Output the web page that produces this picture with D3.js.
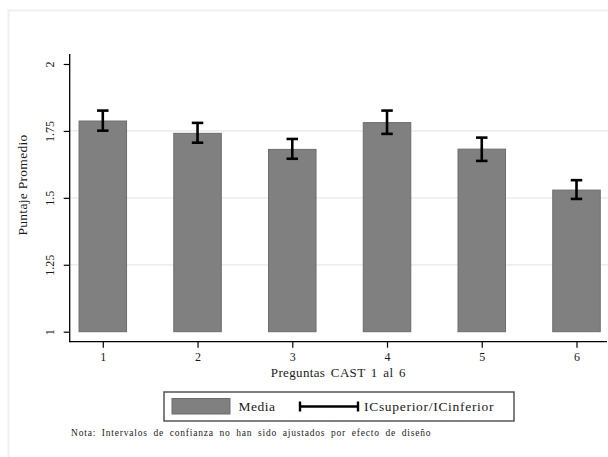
<!DOCTYPE html>
<html>
<head>
<meta charset="utf-8">
<script src="https://d3js.org/d3.v7.min.js"></script>
<style>
  body { margin: 0; background: #fff; }
</style>
</head>
<body>
<script>
// valores
var preguntas = [1, 2, 3, 4, 5, 6];
var media = [1.787, 1.741, 1.681, 1.781, 1.682, 1.529];
var icSuperior = [1.826, 1.780, 1.720, 1.826, 1.725, 1.566];
var icInferior = [1.751, 1.706, 1.646, 1.739, 1.638, 1.496];
var yTicks = [1, 1.25, 1.5, 1.75, 2];

var W = 608, H = 457;
var plotLeft = 69.7, plotRight = 607, plotTop = 54, plotBottom = 341.7;
var serif = "'Liberation Serif', 'Times New Roman', 'DejaVu Serif', serif";

var svg = d3.select("body").append("svg")
    .attr("width", W).attr("height", H);

// marco exterior (gris claro)
svg.append("path")
    .attr("d", "M8.5," + H + "V10.5H" + W)
    .attr("fill", "none").attr("stroke", "#efefef").attr("stroke-width", 2);

var x = d3.scalePoint().domain(preguntas).range([102.8, 576.5]);
var y = d3.scaleLinear().domain([1, 2]).range([331.7, 64]);
var barW = 47.5;

// lineas de grilla
svg.selectAll(".grid")
    .data(yTicks.filter(function (d) { return d > 1 && d < 2; }))
  .enter().append("line")
    .attr("x1", plotLeft).attr("x2", W)
    .attr("y1", function (d) { return y(d); })
    .attr("y2", function (d) { return y(d); })
    .attr("stroke", "#e8e8e8").attr("stroke-width", 1.2);

// barras
svg.selectAll(".bar")
    .data(preguntas)
  .enter().append("rect")
    .attr("x", function (d) { return x(d) - barW / 2; })
    .attr("width", barW)
    .attr("y", function (d, i) { return y(media[i]); })
    .attr("height", function (d, i) { return y(1) - y(media[i]); })
    .attr("fill", "#808080").attr("stroke", "#6c6c6c").attr("stroke-width", 1);

// intervalos de confianza
var capW = 11.5;
var ic = svg.selectAll(".ic").data(preguntas).enter().append("g")
    .attr("stroke", "#000").attr("stroke-width", 2.6);
ic.append("line")
    .attr("x1", function (d) { return x(d); }).attr("x2", function (d) { return x(d); })
    .attr("y1", function (d, i) { return y(icSuperior[i]); })
    .attr("y2", function (d, i) { return y(icInferior[i]); });
ic.append("line")
    .attr("x1", function (d) { return x(d) - capW / 2; }).attr("x2", function (d) { return x(d) + capW / 2; })
    .attr("y1", function (d, i) { return y(icSuperior[i]); })
    .attr("y2", function (d, i) { return y(icSuperior[i]); });
ic.append("line")
    .attr("x1", function (d) { return x(d) - capW / 2; }).attr("x2", function (d) { return x(d) + capW / 2; })
    .attr("y1", function (d, i) { return y(icInferior[i]); })
    .attr("y2", function (d, i) { return y(icInferior[i]); });

// eje y
var yAxis = svg.append("g")
    .attr("transform", "translate(" + plotLeft + ",0)")
    .call(d3.axisLeft(y).tickValues(yTicks).tickSize(6).tickPadding(0).tickFormat(d3.format("")));
yAxis.select(".domain").remove();
yAxis.append("line").attr("y1", plotTop).attr("y2", plotBottom + 0.5)
    .attr("stroke", "#000").attr("stroke-width", 1.3);
yAxis.selectAll(".tick line").attr("stroke", "#000").attr("stroke-width", 1.2);
yAxis.selectAll(".tick text")
    .attr("x", null).attr("dy", null)
    .attr("text-anchor", "middle")
    .attr("transform", "translate(-16,0) rotate(-90)")
    .style("font-family", serif).style("font-size", "12px").style("fill", "#1a1a1a");

// eje x
var xAxis = svg.append("g")
    .attr("transform", "translate(0," + plotBottom + ")")
    .call(d3.axisBottom(x).tickSize(6).tickPadding(5));
xAxis.select(".domain").remove();
xAxis.append("line").attr("x1", plotLeft).attr("x2", plotRight)
    .attr("stroke", "#000").attr("stroke-width", 1.3);
xAxis.selectAll(".tick line").attr("stroke", "#000").attr("stroke-width", 1.2);
xAxis.selectAll(".tick text")
    .style("font-family", serif).style("font-size", "12px").style("fill", "#1a1a1a");

// titulos
svg.append("text")
    .attr("transform", "translate(27," + 185 + ") rotate(-90)")
    .attr("text-anchor", "middle")
    .style("font-family", serif).style("font-size", "13.5px").style("fill", "#1a1a1a")
    .style("letter-spacing", "0.3px")
    .text("Puntaje Promedio");
svg.append("text")
    .attr("x", (plotLeft + plotRight) / 2).attr("y", 377)
    .attr("text-anchor", "middle")
    .style("font-family", serif).style("font-size", "13px").style("fill", "#1a1a1a")
    .style("word-spacing", "2px").style("letter-spacing", "0.35px")
    .text("Preguntas CAST 1 al 6");

// leyenda
var leg = svg.append("g");
leg.append("rect")
    .attr("x", 164).attr("y", 392).attr("width", 350).attr("height", 29)
    .attr("fill", "#fff").attr("stroke", "#555").attr("stroke-width", 1.5);
leg.append("rect")
    .attr("x", 172).attr("y", 398.5).attr("width", 58).attr("height", 15.5)
    .attr("fill", "#808080").attr("stroke", "#6c6c6c").attr("stroke-width", 1);
leg.append("text").attr("x", 238.5).attr("y", 411)
    .style("font-family", serif).style("font-size", "13.5px").style("fill", "#1a1a1a")
    .style("letter-spacing", "0.5px")
    .text("Media");
leg.append("line").attr("x1", 300).attr("x2", 358).attr("y1", 406.5).attr("y2", 406.5)
    .attr("stroke", "#000").attr("stroke-width", 2.4);
leg.append("line").attr("x1", 300).attr("x2", 300).attr("y1", 401.5).attr("y2", 411.5)
    .attr("stroke", "#000").attr("stroke-width", 2.4);
leg.append("line").attr("x1", 358).attr("x2", 358).attr("y1", 401.5).attr("y2", 411.5)
    .attr("stroke", "#000").attr("stroke-width", 2.4);
leg.append("text").attr("x", 364).attr("y", 411)
    .style("font-family", serif).style("font-size", "13.5px").style("fill", "#1a1a1a")
    .style("letter-spacing", "0.7px")
    .text("ICsuperior/ICinferior");

// nota
svg.append("text")
    .attr("x", 71).attr("y", 436)
    .style("font-family", serif).style("font-size", "9.5px").style("fill", "#1a1a1a")
    .style("word-spacing", "2.5px").style("letter-spacing", "0.8px")
    .text("Nota: Intervalos de confianza  no han sido ajustados por efecto de diseño");
</script>
</body>
</html>
